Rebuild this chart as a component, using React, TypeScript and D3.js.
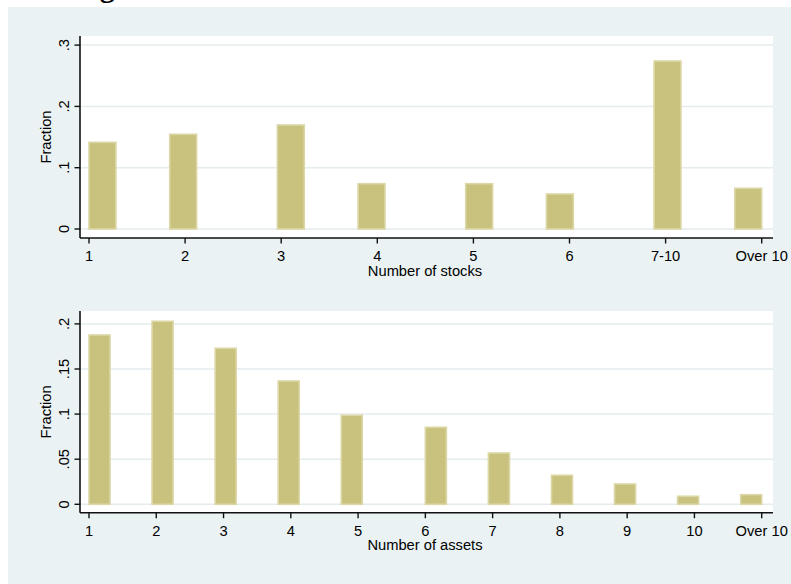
import React from 'react';
import * as d3 from 'd3';

const stockCategories = ['1', '2', '3', '4', '5', '6', '7-10', 'Over 10'];
const stockFractions = [0.1414, 0.1545, 0.1697, 0.0739, 0.0739, 0.0571, 0.274, 0.0664];
const stockYTicks = [0, 0.1, 0.2, 0.3];
const stockBins = 25;

const assetCategories = ['1', '2', '3', '4', '5', '6', '7', '8', '9', '10', 'Over 10'];
const assetFractions = [0.1877, 0.2029, 0.173, 0.1367, 0.0987, 0.0854, 0.0569, 0.0322, 0.0225, 0.0089, 0.0106];
const assetYTicks = [0, 0.05, 0.1, 0.15, 0.2];
const assetBins = 32;

const W = 791;
const H = 584;
const BG = '#EAF2F3';
const GRID = '#E4ECEE';
const BAR_FILL = '#C9C27E';
const BAR_STROKE = '#DCD7A6';
const AXIS = '#111';
const FONT = '"Liberation Sans", Arial, Helvetica, sans-serif';
const FS = 14.7;

const fmt = (d: number) => (d === 0 ? '0' : String(+d.toFixed(3)).replace(/^0/, ''));

type PanelProps = {
  categories: string[];
  values: number[];
  yTicks: number[];
  bins: number;
  xTitle: string;
  plotTop: number;
  axisY: number;
  yZeroPx: number;
  yTopPx: number;
};

const PLOT_LEFT = 80;
const PLOT_RIGHT = 773;
const X_FIRST = 89;
const X_LAST = 761.7;

function Panel(p: PanelProps) {
  const n = p.categories.length;
  const x = d3.scaleLinear().domain([1, n]).range([X_FIRST, X_LAST]);
  const yMax = p.yTicks[p.yTicks.length - 1];
  const y = d3.scaleLinear().domain([0, yMax]).range([p.yZeroPx, p.yTopPx]);
  const binW = (n - 1) / p.bins;
  const bars = p.values.map((v, i) => {
    const val = i + 1;
    const idx = Math.min(p.bins - 1, Math.floor((val - 1) / binW + 1e-9));
    const x0 = 1 + idx * binW;
    return { x0, x1: x0 + binW, v };
  });
  const midY = (p.plotTop + p.axisY) / 2;
  const midX = (PLOT_LEFT + PLOT_RIGHT) / 2;
  return (
    <g>
      <rect x={PLOT_LEFT} y={p.plotTop} width={PLOT_RIGHT - PLOT_LEFT} height={p.axisY - p.plotTop} fill="#fff" />
      {p.yTicks.map((t) => (
        <line key={'g' + t} x1={PLOT_LEFT} x2={PLOT_RIGHT} y1={y(t)} y2={y(t)} stroke={GRID} strokeWidth={1.5} />
      ))}
      {bars.map((b, i) => (
        <rect
          key={'b' + i}
          x={x(b.x0)}
          y={y(b.v)}
          width={x(b.x1) - x(b.x0)}
          height={y(0) - y(b.v)}
          fill={BAR_FILL}
          stroke={BAR_STROKE}
          strokeWidth={1.6}
        />
      ))}
      <line x1={PLOT_LEFT} x2={PLOT_LEFT} y1={p.plotTop} y2={p.axisY} stroke={AXIS} strokeWidth={1.6} />
      <line x1={PLOT_LEFT} x2={PLOT_RIGHT} y1={p.axisY} y2={p.axisY} stroke={AXIS} strokeWidth={1.6} />
      {p.yTicks.map((t) => (
        <g key={'yt' + t}>
          <line x1={PLOT_LEFT - 5.5} x2={PLOT_LEFT} y1={y(t)} y2={y(t)} stroke={AXIS} strokeWidth={1.4} />
          <text
            transform={`translate(${68.5},${y(t)}) rotate(-90)`}
            textAnchor="middle"
            fontFamily={FONT}
            fontSize={FS}
            fill="#000"
          >
            {fmt(t)}
          </text>
        </g>
      ))}
      <text
        transform={`translate(${50.5},${midY}) rotate(-90)`}
        textAnchor="middle"
        fontFamily={FONT}
        fontSize={FS}
        fill="#000"
      >
        Fraction
      </text>
      {p.categories.map((c, i) => (
        <g key={'xt' + i}>
          <line x1={x(i + 1)} x2={x(i + 1)} y1={p.axisY} y2={p.axisY + 5.5} stroke={AXIS} strokeWidth={1.4} />
          <text x={x(i + 1)} y={p.axisY + 23} textAnchor="middle" fontFamily={FONT} fontSize={FS} fill="#000">
            {c}
          </text>
        </g>
      ))}
      <text x={midX - 1.5} y={p.axisY + 37.5} textAnchor="middle" fontFamily={FONT} fontSize={FS} fill="#000">
        {p.xTitle}
      </text>
    </g>
  );
}

export default function App() {
  return (
    <svg
      width={W}
      height={H}
      style={{ position: 'absolute', left: 0, top: 0, display: 'block' }}
      xmlns="http://www.w3.org/2000/svg"
    >
      <rect x={0} y={0} width={W} height={H} fill="#fff" />
      <rect x={8} y={7} width={W - 8} height={H - 7} fill={BG} />
      <text x={73} y={-3} fontFamily='"Liberation Serif", "Times New Roman", serif' fontWeight="bold" fontSize={30} fill="#000">
        Figure
      </text>
      <Panel
        categories={stockCategories}
        values={stockFractions}
        yTicks={stockYTicks}
        bins={stockBins}
        xTitle="Number of stocks"
        plotTop={36}
        axisY={238}
        yZeroPx={229}
        yTopPx={45.1}
      />
      <Panel
        categories={assetCategories}
        values={assetFractions}
        yTicks={assetYTicks}
        bins={assetBins}
        xTitle="Number of assets"
        plotTop={311}
        axisY={512.7}
        yZeroPx={504.3}
        yTopPx={323.9}
      />
    </svg>
  );
}
